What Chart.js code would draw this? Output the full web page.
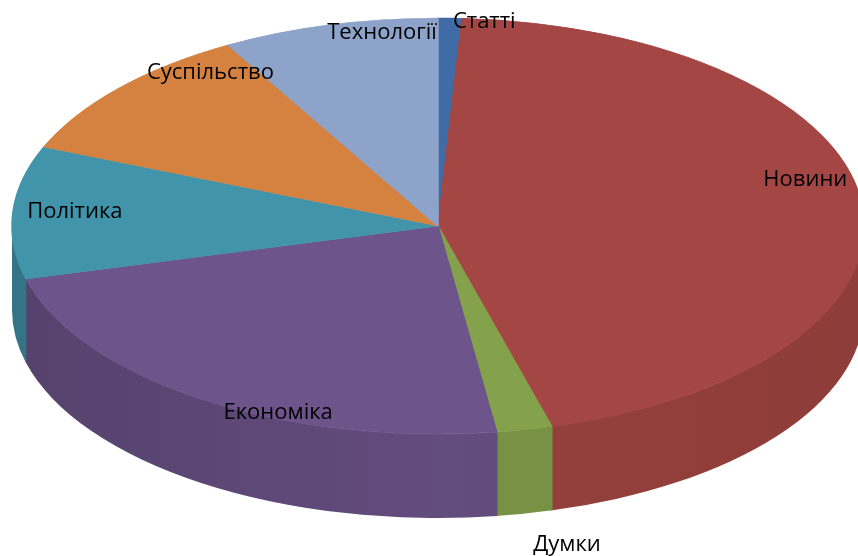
<!DOCTYPE html>
<html><head><meta charset="utf-8">
<script src="https://cdn.jsdelivr.net/npm/chart.js@4.4.1/dist/chart.umd.min.js"></script>
<style>html,body{margin:0;padding:0;background:#fff;} canvas{display:block;}</style>
</head><body>
<canvas id="c" width="858" height="556"></canvas>
<script>
const categories = ['Статті','Новини','Думки','Економіка','Політика','Суспільство','Технології'];
const shares = [0.9, 44.8, 2.1, 23.1, 10.3, 10.6, 8.2];
const colors = ['#3F6CA6','#A44643','#84A24C','#6D548B','#4194AA','#D5813F','#8EA3C9'];

// projection of the pie (style, not data)
const view = {cx:438, cy:226, rx:426, ry:208, depth:84};
// label placement: [radial factor, angle shift in degrees]
const labelPlace = [[0.987,4.7],[0.89,-8.2],[1.56,0.5],[0.974,-11],[0.855,0.7],[0.909,12.6],[0.937,6.7]];

function shade(hex,k){
  const n=parseInt(hex.slice(1),16);
  const r=Math.round(((n>>16)&255)*k), g=Math.round(((n>>8)&255)*k), b=Math.round((n&255)*k);
  return `rgb(${r},${g},${b})`;
}

const pie3d = {
  id:'pie3d',
  beforeDatasetsDraw(chart){
    const ctx=chart.ctx, meta=chart.getDatasetMeta(0);
    const {cx,cy,rx,ry,depth}=view;
    meta.data.forEach((arc,i)=>{
      const a=Math.max(arc.startAngle,0), b=Math.min(arc.endAngle,Math.PI);
      if(b<=a) return;
      const g=ctx.createLinearGradient(cx-rx,0,cx+rx,0);
      g.addColorStop(0,shade(colors[i],0.78));
      g.addColorStop(0.5,shade(colors[i],0.91));
      g.addColorStop(1,shade(colors[i],0.87));
      ctx.beginPath();
      ctx.ellipse(cx,cy,rx,ry,0,a-0.002,b+0.002);
      ctx.ellipse(cx,cy+depth,rx,ry,0,b+0.002,a-0.002,true);
      ctx.closePath();
      ctx.fillStyle=g; ctx.fill();
    });
    const f=meta.data[0];
    const r=f.outerRadius;
    ctx.save();
    ctx.translate(cx,cy); ctx.scale(rx/r, ry/r); ctx.translate(-f.x,-f.y);
  },
  afterDatasetsDraw(chart){
    const ctx=chart.ctx; ctx.restore();
    const meta=chart.getDatasetMeta(0);
    const {cx,cy,rx,ry}=view;
    ctx.save();
    ctx.font='22px "Open Sans"';
    ctx.fillStyle='#000';
    ctx.textAlign='center'; ctx.textBaseline='middle';
    meta.data.forEach((arc,i)=>{
      const [fr,sh]=labelPlace[i];
      const m=(arc.startAngle+arc.endAngle)/2 + sh*Math.PI/180;
      ctx.fillText(categories[i], cx+fr*rx*Math.cos(m), cy+fr*ry*Math.sin(m));
    });
    ctx.restore();
  }
};

new Chart(document.getElementById('c'),{
  type:'pie',
  data:{labels:categories,datasets:[{data:shares,backgroundColor:colors,borderColor:colors,borderWidth:1,clip:false}]},
  options:{responsive:false,animation:false,events:[],layout:{padding:0},
    plugins:{legend:{display:false},tooltip:{enabled:false}}},
  plugins:[pie3d]
});
</script>
</body></html>
